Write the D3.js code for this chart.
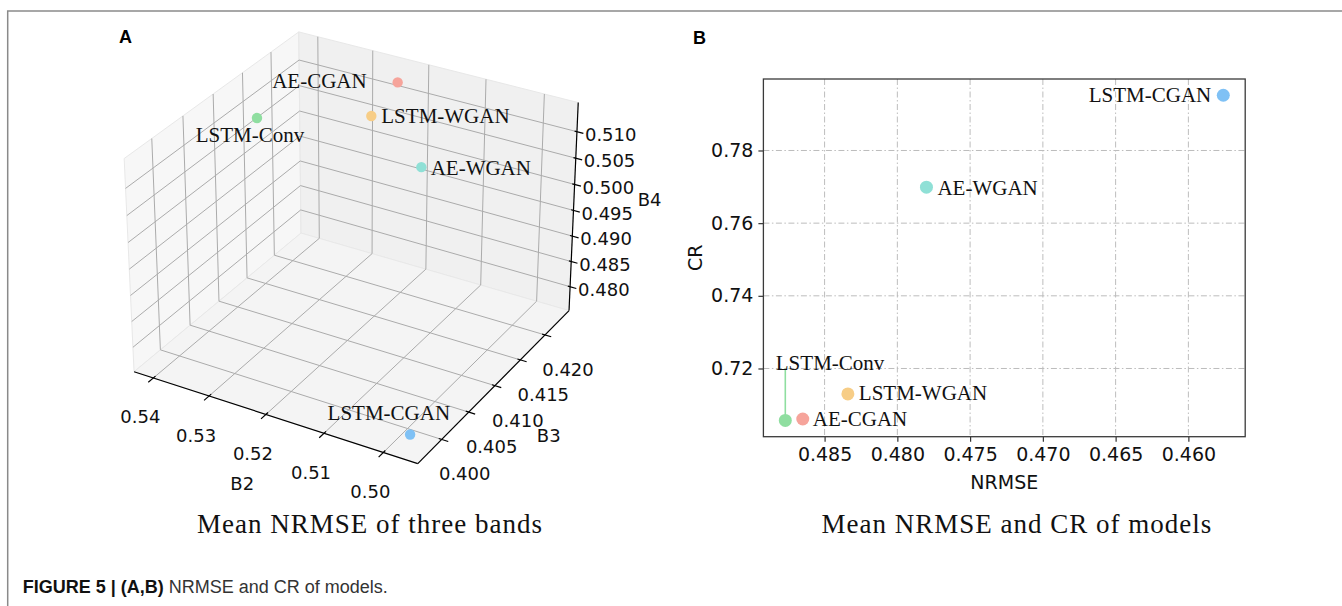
<!DOCTYPE html>
<html>
<head>
<meta charset="utf-8">
<script src="https://cdn.jsdelivr.net/npm/d3@7"></script>
<style>
  body { margin: 0; background: #fff; }
  svg { display: block; }
  .tick text { font-family: "DejaVu Sans", sans-serif; }
</style>
</head>
<body>
<svg id="fig" width="1342" height="606"></svg>
<script>
// ---- data ----
const models  = ['LSTM-Conv', 'AE-CGAN', 'LSTM-WGAN', 'AE-WGAN', 'LSTM-CGAN'];
const colors  = ['#8fdea0', '#f6a49b', '#f7cd86', '#8fe0d6', '#7fc1f5'];
const b2      = [0.5405, 0.5238, 0.5216, 0.5124, 0.4980];
const b3      = [0.4145, 0.4232, 0.4160, 0.4155, 0.3983];
const b4      = [0.5081, 0.5125, 0.5126, 0.5061, 0.4766];
const nrmse   = [0.4877, 0.4865, 0.4834, 0.4780, 0.4576];
const cr      = [0.7057, 0.7061, 0.7130, 0.7699, 0.7952];

const b2Ticks = [0.50, 0.51, 0.52, 0.53, 0.54];
const b3Ticks = [0.400, 0.405, 0.410, 0.415, 0.420];
const b4Ticks = [0.480, 0.485, 0.490, 0.495, 0.500, 0.505, 0.510];
const nrmseTicks = [0.485, 0.480, 0.475, 0.470, 0.465, 0.460];
const crTicks    = [0.72, 0.74, 0.76, 0.78];

const svg = d3.select('#fig');
const serif = '"Liberation Serif", "Times New Roman", serif';
const sans  = '"DejaVu Sans", sans-serif';

// page frame
svg.append('path').attr('d', 'M7.7,606V11H1342')
  .attr('fill', 'none').attr('stroke', '#8a8a8a').attr('stroke-width', 1.5);

// ================= panel A : 3-D scatter =================
// perspective camera (azimuth, elevation, distance, focal scale, centre, box aspect 4:4:3)
const cam = {phi: 59.94, el: 29.74, D: 8.615, k: 2801.5, cx: 355.45, cy: 237.57, ay: 0.999, az: 0.7454};
const sx = d3.scaleLinear().domain([0.49429, 0.54351]).range([0, 1]);
const sy = d3.scaleLinear().domain([0.39569, 0.42502]).range([0, 1]);
const sz = d3.scaleLinear().domain([0.47521, 0.51543]).range([0, 1]);

function P(u, v, w) {
  const ph = cam.phi * Math.PI / 180, e = cam.el * Math.PI / 180;
  const X = u - 0.5, Y = (v - 0.5) * cam.ay, Z = (w - 0.5) * cam.az;
  const xc = -X * Math.sin(ph) + Y * Math.cos(ph);
  const yc = X * Math.cos(ph) * Math.sin(e) + Y * Math.sin(ph) * Math.sin(e) + Z * Math.cos(e);
  const dep = cam.D + X * Math.cos(ph) * Math.cos(e) + Y * Math.sin(ph) * Math.cos(e) - Z * Math.sin(e);
  return [cam.cx + cam.k * xc / dep, cam.cy - cam.k * yc / dep];
}
const seg = (a, b) => d3.line()([P(...a), P(...b)]);

const gA = svg.append('g');
// panes
[
  [[[1,0,0],[1,1,0],[1,1,1],[1,0,1]], '#f7f7f7'],
  [[[0,1,0],[1,1,0],[1,1,1],[0,1,1]], '#f0f0f0'],
  [[[0,0,0],[1,0,0],[1,1,0],[0,1,0]], '#f4f4f4']
].forEach(([poly, fill]) => {
  gA.append('path').attr('d', d3.line()(poly.map(c => P(...c))) + 'Z')
    .attr('fill', fill).attr('stroke', '#e8e8e8').attr('stroke-width', 1);
});

// grid
const grid = gA.append('g').attr('fill', 'none').attr('stroke', '#ababab').attr('stroke-width', 1);
b2Ticks.forEach(t => { const u = sx(t);
  grid.append('path').attr('d', seg([u,0,0],[u,1,0]));
  grid.append('path').attr('d', seg([u,1,0],[u,1,1])); });
b3Ticks.forEach(t => { const v = sy(t);
  grid.append('path').attr('d', seg([0,v,0],[1,v,0]));
  grid.append('path').attr('d', seg([1,v,0],[1,v,1])); });
b4Ticks.forEach(t => { const w = sz(t);
  grid.append('path').attr('d', seg([1,0,w],[1,1,w]));
  grid.append('path').attr('d', seg([0,1,w],[1,1,w])); });

// axis lines and ticks
const ax = gA.append('g').attr('fill', 'none').attr('stroke', '#000').attr('stroke-width', 1.2);
ax.append('path').attr('d', seg([0,0,0],[1,0,0]));
ax.append('path').attr('d', seg([0,0,0],[0,1,0]));
ax.append('path').attr('d', seg([0,1,0],[0,1,1]));
b2Ticks.forEach(t => ax.append('path').attr('d', seg([sx(t),-0.028,0],[sx(t),0.012,0])));
b3Ticks.forEach(t => ax.append('path').attr('d', seg([-0.022,sy(t),0],[0.01,sy(t),0])));
b4Ticks.forEach(t => ax.append('path').attr('d', seg([-0.022,1,sz(t)],[0.008,1,sz(t)])));

const lab = gA.append('g').attr('font-family', sans).attr('font-size', 18).attr('fill', '#111');
b2Ticks.forEach(t => { const p = P(sx(t), 0, 0);
  lab.append('text').attr('x', p[0] - 13).attr('y', p[1] + 39).attr('text-anchor', 'middle')
    .attr('dominant-baseline', 'central').text(t.toFixed(2)); });
b3Ticks.forEach(t => { const p = P(0, sy(t), 0);
  lab.append('text').attr('x', p[0] + 23).attr('y', p[1] + 34.5).attr('text-anchor', 'middle')
    .attr('dominant-baseline', 'central').text(t.toFixed(3)); });
b4Ticks.forEach(t => { const p = P(0, 1, sz(t));
  lab.append('text').attr('x', p[0] + 8).attr('y', p[1] + 2.7).attr('text-anchor', 'start')
    .attr('dominant-baseline', 'central').text(t.toFixed(3)); });
[['B2', P(0.5,0,0), -30, 67], ['B3', P(0,0.5,0), 52, 52], ['B4', P(0,1,0.5), 76, -9]].forEach(([t, p, dx, dy]) => {
  lab.append('text').attr('x', p[0] + dx).attr('y', p[1] + dy).attr('text-anchor', 'middle')
    .attr('dominant-baseline', 'central').text(t);
});

// points + labels
const labA = [['middle', -7, 23.7], ['end', -31, 6], ['start', 10, 7], ['start', 9.3, 8], ['end', 40, -15]];
models.forEach((m, i) => {
  const p = P(sx(b2[i]), sy(b3[i]), sz(b4[i]));
  gA.append('circle').attr('cx', p[0]).attr('cy', p[1]).attr('r', 5.2).attr('fill', colors[i]);
  gA.append('text').attr('x', p[0] + labA[i][1]).attr('y', p[1] + labA[i][2])
    .attr('text-anchor', labA[i][0]).attr('font-family', serif).attr('font-size', 21)
    .attr('fill', '#111').text(m);
});

svg.append('text').attr('x', 370).attr('y', 533).attr('text-anchor', 'middle')
  .attr('font-family', serif).attr('font-size', 27).attr('letter-spacing', 1)
  .attr('fill', '#111').text('Mean NRMSE of three bands');
svg.append('text').attr('x', 119).attr('y', 43).attr('font-family', '"Liberation Sans", Arial, sans-serif')
  .attr('font-weight', 'bold').attr('font-size', 18).text('A');

// ================= panel B : NRMSE vs CR =================
const L = 763.4, R = 1245.2, T = 79, B = 436.7;
const xe = d3.extent(nrmse), ye = d3.extent(cr);
const xm = (xe[1] - xe[0]) * 0.05, ym = (ye[1] - ye[0]) * 0.05;
const x = d3.scaleLinear().domain([xe[1] + xm, xe[0] - xm]).range([L, R]);
const y = d3.scaleLinear().domain([ye[0] - ym, ye[1] + ym]).range([B, T]);

const gB = svg.append('g');
const gridB = gB.append('g').attr('stroke', '#bdbdbd').attr('stroke-width', 1)
  .attr('stroke-dasharray', '6,2.5,1.5,2.5');
nrmseTicks.forEach(t => gridB.append('line').attr('x1', x(t)).attr('x2', x(t)).attr('y1', T).attr('y2', B));
crTicks.forEach(t => gridB.append('line').attr('y1', y(t)).attr('y2', y(t)).attr('x1', L).attr('x2', R));

const xAxis = gB.append('g').attr('transform', `translate(0,${B})`)
  .call(d3.axisBottom(x).tickValues(nrmseTicks).tickFormat(d3.format('.3f')).tickSize(5).tickPadding(6));
const yAxis = gB.append('g').attr('transform', `translate(${L},0)`)
  .call(d3.axisLeft(y).tickValues(crTicks).tickFormat(d3.format('.2f')).tickSize(5).tickPadding(5));
[xAxis, yAxis].forEach(a => {
  a.select('.domain').remove();
  a.selectAll('.tick line').attr('stroke', '#333').attr('stroke-width', 1.2);
  a.selectAll('.tick text').attr('font-size', 19).attr('fill', '#111');
});
gB.append('rect').attr('x', L).attr('y', T).attr('width', R - L).attr('height', B - T)
  .attr('fill', 'none').attr('stroke', '#3a3a3a').attr('stroke-width', 1.3);

gB.append('text').attr('x', (L + R) / 2).attr('y', 481.7).attr('text-anchor', 'middle')
  .attr('dominant-baseline', 'central').attr('font-family', sans).attr('font-size', 19)
  .attr('fill', '#111').text('NRMSE');
gB.append('text').attr('transform', `translate(694.5,${(T + B) / 2}) rotate(-90)`)
  .attr('text-anchor', 'middle').attr('dominant-baseline', 'central')
  .attr('font-family', sans).attr('font-size', 19).attr('fill', '#111').text('CR');

// LSTM-Conv annotation line
gB.append('line').attr('x1', x(nrmse[0])).attr('x2', x(nrmse[0]))
  .attr('y1', y(cr[0])).attr('y2', y(0.72)).attr('stroke', colors[0]).attr('stroke-width', 1.6);

const labB = [['start', -9.5, null], ['start', 10, 7], ['start', 11, 6.5], ['start', 11, 7.5], ['end', -12, 7]];
models.forEach((m, i) => {
  const px = x(nrmse[i]), py = y(cr[i]);
  gB.append('circle').attr('cx', px).attr('cy', py).attr('r', 6.5).attr('fill', colors[i]);
  const ty = labB[i][2] === null ? y(0.72) + 1.5 : py + labB[i][2];
  gB.append('text').attr('x', px + labB[i][1]).attr('y', ty).attr('text-anchor', labB[i][0])
    .attr('font-family', serif).attr('font-size', 21).attr('fill', '#111').text(m);
});

svg.append('text').attr('x', 1016.8).attr('y', 533).attr('text-anchor', 'middle')
  .attr('font-family', serif).attr('font-size', 27).attr('letter-spacing', 1)
  .attr('fill', '#111').text('Mean NRMSE and CR of models');
svg.append('text').attr('x', 693).attr('y', 44).attr('font-family', '"Liberation Sans", Arial, sans-serif')
  .attr('font-weight', 'bold').attr('font-size', 18).text('B');

// caption
const cap = svg.append('text').attr('x', 22.7).attr('y', 593)
  .attr('font-family', '"Liberation Sans", Arial, sans-serif').attr('font-size', 18).attr('fill', '#333');
cap.append('tspan').attr('font-weight', 'bold').attr('fill', '#111').text('FIGURE 5 | (A,B)');
cap.append('tspan').text(' NRMSE and CR of models.');
</script>
</body>
</html>
